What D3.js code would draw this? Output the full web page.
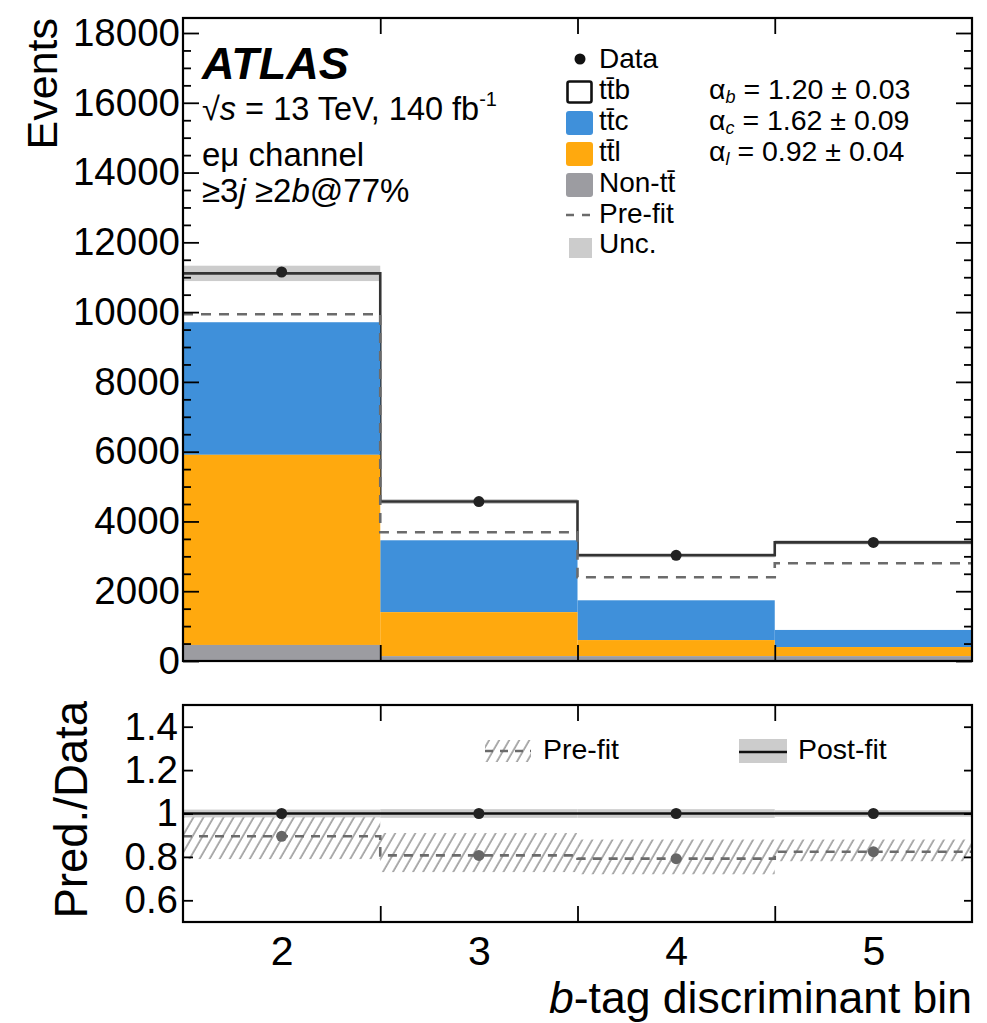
<!DOCTYPE html>
<html>
<head>
<meta charset="utf-8">
<script src="https://cdn.jsdelivr.net/npm/d3@7"></script>
<style>
  body { margin: 0; background: #fff; }
  svg { font-family: "Liberation Sans", Arial, sans-serif; }
</style>
</head>
<body>
<div id="chart"></div>
<script>
// values
const bins = [2, 3, 4, 5];
const binLabels = ["2", "3", "4", "5"];
const dataEvents = [11150, 4570, 3030, 3400];
const ttbEvents = [1400, 1110, 1290, 2510];
const ttcEvents = [3800, 2060, 1140, 490];
const ttlEvents = [5450, 1260, 460, 260];
const nonTtEvents = [460, 140, 140, 140];
const preFitEvents = [9940, 3690, 2400, 2800];
const postFitUnc = [220, 70, 60, 60];

const ratioPre = [0.895, 0.807, 0.792, 0.824];
const ratioPreLo = [0.79, 0.73, 0.72, 0.78];
const ratioPreHi = [0.99, 0.91, 0.88, 0.88];
const ratioPost = [1, 1, 1, 1];
const ratioPostUnc = [0.018, 0.02, 0.02, 0.015];

const eventTicks = [0, 2000, 4000, 6000, 8000, 10000, 12000, 14000, 16000, 18000];
const ratioTicks = [0.6, 0.8, 1, 1.2, 1.4];
const ratioTickLabels = ["0.6", "0.8", "1", "1.2", "1.4"];

const blue = '#3f90da';
const orange = '#ffa90e';
const grey = '#9c9ca1';
const uncGrey = '#cccccc';
const preGrey = '#6b6b6b';

const w = 987, h = 1023;
const frame = {left: 183, right: 972, top: 18, bottom: 661, rTop: 705, rBottom: 922};

const svg = d3.select('#chart').append('svg')
    .attr('width', w).attr('height', h);

const defs = svg.append('defs');
defs.append('pattern')
    .attr('id', 'hatch')
    .attr('patternUnits', 'userSpaceOnUse')
    .attr('width', 8.7).attr('height', 8.7)
    .attr('patternTransform', 'rotate(30)')
    .append('line')
    .attr('x1', 2).attr('y1', 0).attr('x2', 2).attr('y2', 8.7)
    .attr('stroke', '#8a8a8a').attr('stroke-width', 1.4);

const x = d3.scaleLinear().domain([1.5, 5.5]).range([frame.left, frame.right]);
const y = d3.scaleLinear().domain([0, 18430]).range([frame.bottom, frame.top]);
const yr = d3.scaleLinear().domain([0.5, 1.5]).range([frame.rBottom, frame.rTop]);

const edges = [1.5, 2.5, 3.5, 4.5, 5.5];
const stepLine = (scale, vals) => d3.line()
    .x(d => x(d[0])).y(d => scale(d[1]))
    .curve(d3.curveStepAfter)(edges.map((e, i) => [e, vals[Math.min(i, vals.length - 1)]]));

// ---------- main panel ----------
const rows = bins.map((b, i) => {
    const n = nonTtEvents[i], l = ttlEvents[i], c = ttcEvents[i], t = ttbEvents[i];
    return {b, n0: 0, n1: n, l1: n + l, c1: n + l + c, total: n + l + c + t};
});

const main = svg.append('g');

main.selectAll('rect.ttb').data(rows).enter().append('rect')
    .attr('x', d => x(d.b - 0.5)).attr('width', x(1) - x(0))
    .attr('y', d => y(d.total)).attr('height', d => y(0) - y(d.total))
    .attr('fill', '#fff');

main.selectAll('rect.unc').data(rows).enter().append('rect')
    .attr('x', d => x(d.b - 0.5)).attr('width', x(1) - x(0))
    .attr('y', (d, i) => y(d.total + postFitUnc[i]))
    .attr('height', (d, i) => y(d.total - postFitUnc[i]) - y(d.total + postFitUnc[i]))
    .attr('fill', uncGrey);

main.append('path')
    .attr('d', stepLine(y, rows.map(d => d.total)))
    .attr('fill', 'none').attr('stroke', '#333').attr('stroke-width', 2.6);

const layers = [
    {key: 'c', lo: 'l1', hi: 'c1', color: blue},
    {key: 'l', lo: 'n1', hi: 'l1', color: orange},
    {key: 'n', lo: 'n0', hi: 'n1', color: grey}
];
layers.forEach(L => {
    main.selectAll('rect.s' + L.key).data(rows).enter().append('rect')
        .attr('x', d => x(d.b - 0.5)).attr('width', x(1) - x(0))
        .attr('y', d => y(d[L.hi])).attr('height', d => y(d[L.lo]) - y(d[L.hi]))
        .attr('fill', L.color);
});

main.append('path')
    .attr('d', stepLine(y, preFitEvents))
    .attr('fill', 'none').attr('stroke', preGrey).attr('stroke-width', 2.6)
    .attr('stroke-dasharray', '10,8');

main.selectAll('circle.data').data(dataEvents).enter().append('circle')
    .attr('cx', (d, i) => x(bins[i])).attr('cy', d => y(d))
    .attr('r', 5.5).attr('fill', '#222');

// ---------- ratio panel ----------
const ratio = svg.append('g');

ratio.selectAll('rect.hatch').data(bins).enter().append('rect')
    .attr('x', d => x(d - 0.5)).attr('width', x(1) - x(0))
    .attr('y', (d, i) => yr(ratioPreHi[i]))
    .attr('height', (d, i) => yr(ratioPreLo[i]) - yr(ratioPreHi[i]))
    .attr('fill', 'url(#hatch)');

ratio.selectAll('rect.pband').data(bins).enter().append('rect')
    .attr('x', d => x(d - 0.5)).attr('width', x(1) - x(0))
    .attr('y', (d, i) => yr(ratioPost[i] + ratioPostUnc[i]))
    .attr('height', (d, i) => yr(ratioPost[i] - ratioPostUnc[i]) - yr(ratioPost[i] + ratioPostUnc[i]))
    .attr('fill', uncGrey);

ratio.append('path')
    .attr('d', stepLine(yr, ratioPre))
    .attr('fill', 'none').attr('stroke', preGrey).attr('stroke-width', 2.6)
    .attr('stroke-dasharray', '9,7');

ratio.append('path')
    .attr('d', stepLine(yr, ratioPost))
    .attr('fill', 'none').attr('stroke', '#111').attr('stroke-width', 2.6);

ratio.selectAll('circle.pre').data(ratioPre).enter().append('circle')
    .attr('cx', (d, i) => x(bins[i])).attr('cy', d => yr(d))
    .attr('r', 5.5).attr('fill', '#666');

ratio.selectAll('circle.post').data(ratioPost).enter().append('circle')
    .attr('cx', (d, i) => x(bins[i])).attr('cy', d => yr(d))
    .attr('r', 5.5).attr('fill', '#222');

// ---------- axes ----------
const minorEvents = d3.range(0, 18500, 500).filter(v => v % 2000 !== 0);
const tickFont = g => g.selectAll('text').attr('font-size', 38.5).attr('font-family', '"Liberation Sans", Arial, sans-serif').attr('fill', '#000');
const noDomain = g => g.select('.domain').remove();

svg.append('g').attr('transform', `translate(${frame.left},0)`)
    .call(d3.axisLeft(y).tickValues(eventTicks).tickSize(-16).tickPadding(3).tickFormat(d3.format('d')))
    .call(noDomain).call(tickFont)
    .selectAll('line').attr('stroke-width', 1.8);
svg.append('g').attr('transform', `translate(${frame.left},0)`)
    .call(d3.axisLeft(y).tickValues(minorEvents).tickSize(-8).tickFormat(''))
    .call(noDomain).selectAll('line').attr('stroke-width', 1.8);
svg.append('g').attr('transform', `translate(${frame.right},0)`)
    .call(d3.axisRight(y).tickValues(eventTicks).tickSize(-16).tickFormat(''))
    .call(noDomain).selectAll('line').attr('stroke-width', 1.8);
svg.append('g').attr('transform', `translate(${frame.right},0)`)
    .call(d3.axisRight(y).tickValues(minorEvents).tickSize(-8).tickFormat(''))
    .call(noDomain).selectAll('line').attr('stroke-width', 1.8);

// bin-edge ticks on both panels
[[frame.bottom, 'b'], [frame.top, 't'], [frame.rBottom, 'b'], [frame.rTop, 't']].forEach(([yy, side]) => {
    const ax = side === 'b' ? d3.axisBottom(x) : d3.axisTop(x);
    svg.append('g').attr('transform', `translate(0,${yy})`)
        .call(ax.tickValues([2.5, 3.5, 4.5]).tickSize(-16).tickFormat(''))
        .call(noDomain).selectAll('line').attr('stroke-width', 1.8);
});

svg.append('g').attr('transform', `translate(${frame.left},0)`)
    .call(d3.axisLeft(yr).tickValues(ratioTicks).tickSize(-10).tickPadding(5)
        .tickFormat((d, i) => ratioTickLabels[i]))
    .call(noDomain).call(tickFont)
    .selectAll('line').attr('stroke-width', 1.8);
svg.append('g').attr('transform', `translate(${frame.right},0)`)
    .call(d3.axisRight(yr).tickValues(ratioTicks).tickSize(-8).tickFormat(''))
    .call(noDomain).selectAll('line').attr('stroke-width', 1.8);

svg.append('g').attr('transform', `translate(0,${frame.rBottom})`)
    .call(d3.axisBottom(x).tickValues(bins).tickSize(0).tickPadding(14)
        .tickFormat((d, i) => binLabels[i]))
    .call(noDomain).call(tickFont)
    .selectAll('text').attr('font-size', 41);

// frames
svg.append('rect').attr('x', frame.left).attr('y', frame.top)
    .attr('width', frame.right - frame.left).attr('height', frame.bottom - frame.top)
    .attr('fill', 'none').attr('stroke', '#000').attr('stroke-width', 2.2);
svg.append('rect').attr('x', frame.left).attr('y', frame.rTop)
    .attr('width', frame.right - frame.left).attr('height', frame.rBottom - frame.rTop)
    .attr('fill', 'none').attr('stroke', '#000').attr('stroke-width', 2.2);

// axis titles
svg.append('text').attr('transform', 'translate(57,18) rotate(-90)')
    .attr('text-anchor', 'end').attr('font-size', 43).text('Events');
svg.append('text').attr('transform', 'translate(87,701) rotate(-90)')
    .attr('text-anchor', 'end').attr('font-size', 45.5).text('Pred./Data');
const xt = svg.append('text').attr('x', frame.right).attr('y', 1013)
    .attr('text-anchor', 'end').attr('font-size', 44.5);
xt.append('tspan').attr('font-style', 'italic').text('b');
xt.append('tspan').text('-tag discriminant bin');

// ATLAS label block
svg.append('text').attr('x', 202).attr('y', 79)
    .attr('font-size', 45).attr('font-weight', 'bold').attr('font-style', 'italic').text('ATLAS');
const lum = svg.append('text').attr('x', 202).attr('y', 120).attr('font-size', 32.5);
lum.append('tspan').text('√');
lum.append('tspan').attr('font-style', 'italic').text('s');
lum.append('tspan').text(' = 13 TeV, 140 fb');
lum.append('tspan').attr('font-size', 20).attr('dy', -14).text('-1');
svg.append('text').attr('x', 202).attr('y', 166).attr('font-size', 33).text('eμ channel');
const sel = svg.append('text').attr('x', 202).attr('y', 202).attr('font-size', 33);
sel.append('tspan').text('≥3');
sel.append('tspan').attr('font-style', 'italic').text('j');
sel.append('tspan').text(' ≥2');
sel.append('tspan').attr('font-style', 'italic').text('b');
sel.append('tspan').text('@77%');

// legend
const leg = svg.append('g').attr('font-size', 28);
leg.append('circle').attr('cx', 580).attr('cy', 59).attr('r', 5.5).attr('fill', '#111');
leg.append('rect').attr('x', 567.5).attr('y', 81.5).attr('width', 24).attr('height', 21).attr('rx', 2)
    .attr('fill', '#fff').attr('stroke', '#111').attr('stroke-width', 2.6);
[[111, blue], [142, orange], [173, grey]].forEach(([yy, c]) => {
    leg.append('rect').attr('x', 566).attr('y', yy).attr('width', 27).attr('height', 24).attr('rx', 3).attr('fill', c);
});
leg.append('line').attr('x1', 566).attr('x2', 594).attr('y1', 215).attr('y2', 215)
    .attr('stroke', preGrey).attr('stroke-width', 2.6).attr('stroke-dasharray', '8,8');
leg.append('rect').attr('x', 569).attr('y', 238).attr('width', 23).attr('height', 20).attr('fill', uncGrey);
const legText = ['Data', 'tt\u0304b', 'tt\u0304c', 'tt\u0304l', 'Non-tt\u0304', 'Pre-fit', 'Unc.'];
const legY = [68, 99, 130, 161, 192, 223, 253];
leg.selectAll('text').data(legText).enter().append('text')
    .attr('x', 599).attr('y', (d, i) => legY[i]).text(d => d);

// fitted normalisation factors
const alphas = [['b', '1.20', '0.03'], ['c', '1.62', '0.09'], ['l', '0.92', '0.04']];
alphas.forEach((a, i) => {
    const t = svg.append('text').attr('x', 709).attr('y', legY[i + 1]).attr('font-size', 28.5);
    t.append('tspan').text('α');
    t.append('tspan').attr('font-style', 'italic').attr('font-size', 18).attr('dy', 4).text(a[0]);
    t.append('tspan').attr('dy', -4).text(' = ' + a[1] + ' ± ' + a[2]);
});

// ratio legend
const rl = svg.append('g').attr('font-size', 28.5);
rl.append('rect').attr('x', 485).attr('y', 740).attr('width', 46).attr('height', 22).attr('fill', 'url(#hatch)');
rl.append('line').attr('x1', 485).attr('x2', 531).attr('y1', 751).attr('y2', 751)
    .attr('stroke', preGrey).attr('stroke-width', 2.4).attr('stroke-dasharray', '8,7');
rl.append('text').attr('x', 543).attr('y', 759).text('Pre-fit');
rl.append('rect').attr('x', 739).attr('y', 739).attr('width', 48).attr('height', 24).attr('fill', uncGrey);
rl.append('line').attr('x1', 739).attr('x2', 787).attr('y1', 752).attr('y2', 752)
    .attr('stroke', '#111').attr('stroke-width', 2.6);
rl.append('text').attr('x', 798).attr('y', 759).text('Post-fit');
</script>
</body>
</html>
